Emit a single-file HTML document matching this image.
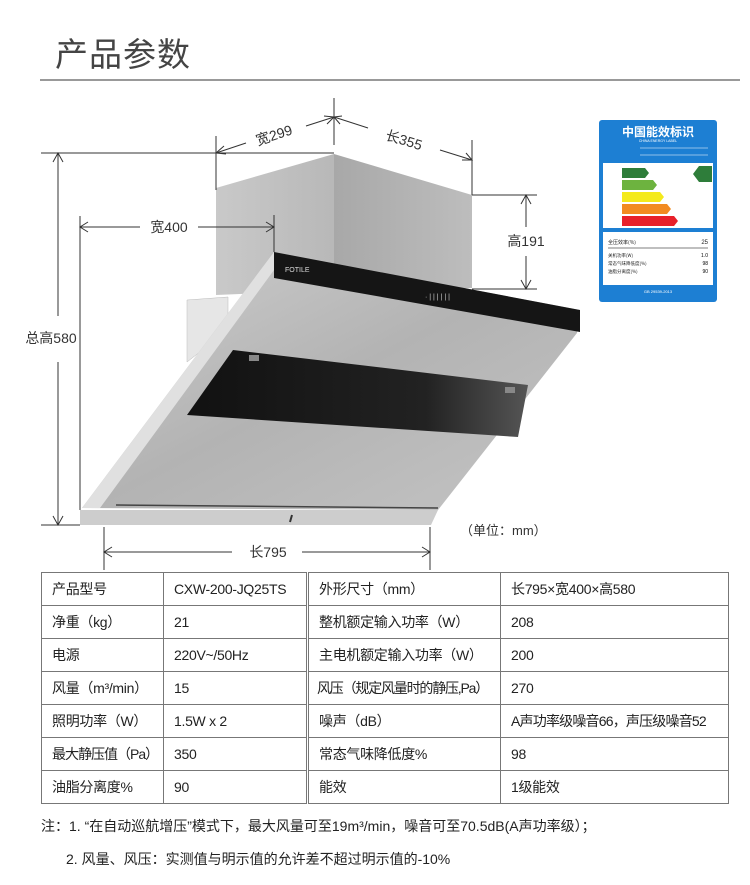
<!DOCTYPE html>
<html><head><meta charset="utf-8"><style>
body{margin:0;width:750px;height:885px;background:#fff;position:relative;overflow:hidden;font-family:"Liberation Sans","Noto Sans CJK SC",sans-serif;color:#222}
.t{position:absolute;white-space:nowrap}
table{position:absolute;left:41px;top:572px;border-collapse:collapse;font-size:14px;color:#222;table-layout:fixed;width:687px}
td{border:1px solid #777;height:33px;padding:0 0 0 10px;box-sizing:border-box;white-space:nowrap;overflow:hidden;letter-spacing:-0.3px}
</style></head><body>
<div class="t" style="left:55px;top:28px;font-size:33px;color:#444;letter-spacing:1px">产品参数</div>
<div style="position:absolute;left:40px;top:79px;width:700px;height:2px;background:#999"></div>

<svg width="750" height="570" style="position:absolute;left:0;top:0" xmlns="http://www.w3.org/2000/svg">
<defs>
<linearGradient id="dl" x1="0" y1="0" x2="1" y2="0"><stop offset="0" stop-color="#c9c9c9"/><stop offset="1" stop-color="#b8b8b8"/></linearGradient>
<linearGradient id="dr" x1="0" y1="0" x2="1" y2="0"><stop offset="0" stop-color="#a8a8a8"/><stop offset="1" stop-color="#bdbdbd"/></linearGradient>
<linearGradient id="hb" x1="0" y1="0" x2="1" y2="1"><stop offset="0" stop-color="#cfcfcf"/><stop offset="0.5" stop-color="#b3b3b3"/><stop offset="1" stop-color="#c4c4c4"/></linearGradient>
<linearGradient id="gl" x1="0" y1="0" x2="1" y2="0"><stop offset="0" stop-color="#111"/><stop offset="0.7" stop-color="#222"/><stop offset="1" stop-color="#555"/></linearGradient>
</defs>
<polygon points="216,188 334,154 334,290 216,295" fill="url(#dl)"/>
<polygon points="334,154 472,195 472,288 334,290" fill="url(#dr)"/>
<polygon points="187,300 228,297 228,330 187,362" fill="#e6e6e6" stroke="#bbb" stroke-width="0.5"/>
<polygon points="274,252 580,310 577,333 438,510 82,508" fill="url(#hb)"/>
<polygon points="274,252 82,508 100,508 274,270" fill="#e0e0e0"/>
<polygon points="274,252 580,310 580,332 274,278" fill="#151515"/>
<text x="285" y="272" font-size="7" fill="#ddd" font-family="Liberation Sans">FOTILE</text>
<text x="425" y="299" font-size="7" fill="#ccc" font-family="Liberation Sans">· | | | | | |</text>
<polygon points="233,350 528,385 518,437 187,415" fill="url(#gl)"/>
<rect x="249" y="355" width="10" height="6" fill="#888"/>
<rect x="505" y="387" width="10" height="6" fill="#888"/>
<polygon points="80,510 438,510 431,525 80,525" fill="#cdcdcd"/>
<line x1="116" y1="505" x2="438" y2="508" stroke="#444" stroke-width="1.5"/>
<line x1="292" y1="515" x2="290" y2="522" stroke="#333" stroke-width="2"/>

<g stroke="#333" stroke-width="1" fill="none">
<line x1="334" y1="98" x2="334" y2="145"/>
<line x1="216" y1="136" x2="216" y2="190"/>
<line x1="472" y1="140" x2="472" y2="195"/>
<line x1="216" y1="153" x2="246" y2="143"/><line x1="306" y1="126" x2="334" y2="117"/>
<line x1="334" y1="117" x2="368" y2="128"/><line x1="440" y1="150" x2="472" y2="160"/>
<polyline points="224,146 216,153 226,154"/>
<polyline points="324,116 334,117 327,124"/>
<polyline points="342,116 334,117 340,124"/>
<polyline points="462,160 472,160 466,153"/>
<line x1="41" y1="153" x2="334" y2="153"/>
<line x1="41" y1="525" x2="80" y2="525"/>
<line x1="58" y1="153" x2="58" y2="316"/><line x1="58" y1="362" x2="58" y2="525"/>
<polyline points="53,162 58,153 63,162"/><polyline points="53,516 58,525 63,516"/>
<line x1="80" y1="216" x2="80" y2="510"/><line x1="274" y1="215" x2="274" y2="252"/>
<line x1="80" y1="227" x2="140" y2="227"/><line x1="198" y1="227" x2="274" y2="227"/>
<polyline points="88,222 80,227 88,232"/><polyline points="266,222 274,227 266,232"/>
<line x1="472" y1="195" x2="537" y2="195"/><line x1="472" y1="289" x2="537" y2="289"/>
<line x1="526" y1="195" x2="526" y2="227"/><line x1="526" y1="256" x2="526" y2="289"/>
<polyline points="521,204 526,195 531,204"/><polyline points="521,280 526,289 531,280"/>
<line x1="104" y1="527" x2="104" y2="572"/><line x1="430" y1="527" x2="430" y2="572"/>
<line x1="104" y1="552" x2="232" y2="552"/><line x1="302" y1="552" x2="430" y2="552"/>
<polyline points="112,547 104,552 112,557"/><polyline points="422,547 430,552 422,557"/>
</g>
<g font-family="Liberation Sans,Noto Sans CJK SC,sans-serif" font-size="14" fill="#333">
<text x="274" y="140" text-anchor="middle" transform="rotate(-18 274 135)">宽299</text>
<text x="404" y="145" text-anchor="middle" transform="rotate(17 404 140)">长355</text>
<text x="51" y="343" text-anchor="middle">总高580</text>
<text x="169" y="232" text-anchor="middle">宽400</text>
<text x="526" y="246" text-anchor="middle">高191</text>
<text x="268" y="557" text-anchor="middle">长795</text>
<text x="460" y="535" font-size="13">（单位：mm）</text>
</g>
<rect x="599" y="120" width="118" height="182" rx="3" fill="#1d7fd3"/>
<text x="658" y="136" text-anchor="middle" font-size="12" font-weight="bold" fill="#fff" font-family="Noto Sans CJK SC,sans-serif">中国能效标识</text>
<text x="658" y="142" text-anchor="middle" font-size="3.5" fill="#fff" font-family="Liberation Sans">CHINA ENERGY LABEL</text>
<line x1="640" y1="148" x2="708" y2="148" stroke="#fff" stroke-width="0.6"/>
<line x1="640" y1="155" x2="708" y2="155" stroke="#fff" stroke-width="0.6"/>
<rect x="603" y="163" width="110" height="65" fill="#fff"/>
<polygon points="622,168 645,168 649,173 645,178 622,178" fill="#2e7d3a"/>
<polygon points="622,180 653,180 657,185 653,190 622,190" fill="#6db33f"/>
<polygon points="622,192 660,192 664,197 660,202 622,202" fill="#f4ea1c"/>
<polygon points="622,204 667,204 671,209 667,214 622,214" fill="#f28b21"/>
<polygon points="622,216 674,216 678,221 674,226 622,226" fill="#e8202a"/>
<polygon points="693,174 699,166 712,166 712,182 699,182" fill="#2e7d3a"/>
<rect x="603" y="232" width="110" height="53" fill="#fff"/>
<text x="608" y="244" font-size="5" fill="#222" font-family="Noto Sans CJK SC">全压效率(%)</text>
<text x="708" y="244" font-size="6" fill="#222" text-anchor="end">25</text>
<line x1="608" y1="248" x2="708" y2="248" stroke="#555" stroke-width="0.8"/>
<text x="608" y="257" font-size="4.5" fill="#222" font-family="Noto Sans CJK SC">关机功率(W)</text><text x="708" y="257" font-size="5" text-anchor="end">1.0</text>
<text x="608" y="265" font-size="4.5" fill="#222" font-family="Noto Sans CJK SC">常态气味降低度(%)</text><text x="708" y="265" font-size="5" text-anchor="end">98</text>
<text x="608" y="273" font-size="4.5" fill="#222" font-family="Noto Sans CJK SC">油脂分离度(%)</text><text x="708" y="273" font-size="5" text-anchor="end">90</text>
<text x="658" y="293" text-anchor="middle" font-size="4" fill="#fff">GB 29539-2013</text>
</svg>

<table>
<colgroup><col style="width:122px"><col style="width:144px"><col style="width:193px"><col style="width:228px"></colgroup>
<tr><td>产品型号</td><td style="border-right:3px double #777">CXW-200-JQ25TS</td><td>外形尺寸（mm）</td><td>长795×宽400×高580</td></tr>
<tr><td>净重（kg）</td><td style="border-right:3px double #777">21</td><td>整机额定输入功率（W）</td><td>208</td></tr>
<tr><td>电源</td><td style="border-right:3px double #777">220V~/50Hz</td><td>主电机额定输入功率（W）</td><td>200</td></tr>
<tr><td>风量（m³/min）</td><td style="border-right:3px double #777">15</td><td style="letter-spacing:-1.2px;padding-left:8px">风压（规定风量时的静压,Pa）</td><td>270</td></tr>
<tr><td>照明功率（W）</td><td style="border-right:3px double #777">1.5W x 2</td><td>噪声（dB）</td><td style="letter-spacing:-0.8px">A声功率级噪音66，声压级噪音52</td></tr>
<tr><td style="letter-spacing:-1px">最大静压值（Pa）</td><td style="border-right:3px double #777">350</td><td>常态气味降低度%</td><td>98</td></tr>
<tr><td>油脂分离度%</td><td style="border-right:3px double #777">90</td><td>能效</td><td>1级能效</td></tr>
</table>
<div class="t" style="left:41px;top:816px;font-size:14px">注：1. “在自动巡航增压”模式下，最大风量可至19m³/min，噪音可至70.5dB(A声功率级）；</div>
<div class="t" style="left:66px;top:849px;font-size:14px">2. 风量、风压：实测值与明示值的允许差不超过明示值的-10%</div>
</body></html>
